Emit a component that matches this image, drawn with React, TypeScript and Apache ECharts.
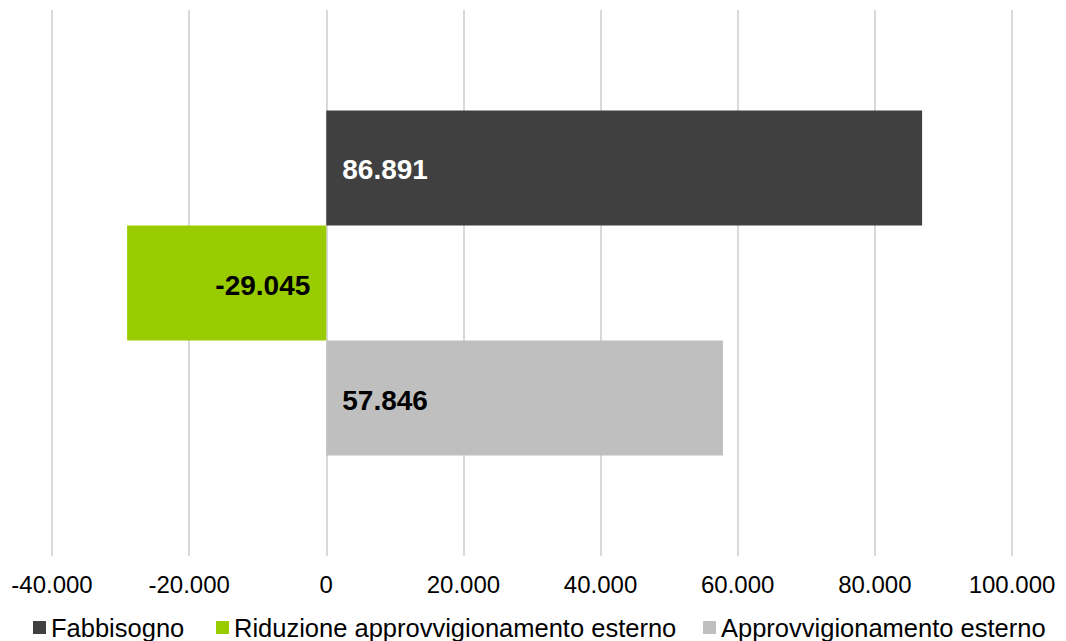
import React, { useEffect, useRef } from "react";
import * as echarts from "echarts";

const categories = [""];
const seriesNames = ["Fabbisogno", "Riduzione approvvigionamento esterno", "Approvvigionamento esterno"];
const seriesValues = [86891, -29045, 57846];
const seriesColors = ["#404040", "#99CC00", "#BFBFBF"];
const labelColors = ["#FFFFFF", "#000000", "#000000"];
const xMin = -40000;
const xMax = 100000;
const xInterval = 20000;

const fmt = (v: number) => {
  const s = Math.abs(Math.round(v)).toString().replace(/\B(?=(\d{3})+(?!\d))/g, ".");
  return (v < 0 ? "-" : "") + s;
};

const FONT = "'Liberation Sans', Arial, sans-serif";

export default function App() {
  const ref = useRef<HTMLDivElement>(null);
  useEffect(() => {
    if (!ref.current) return;
    const chart = echarts.init(ref.current, undefined, { renderer: "svg" });
    const legendLefts = [33, 216, 703];
    chart.setOption({
      animation: false,
      backgroundColor: "#FFFFFF",
      textStyle: { fontFamily: FONT },
      grid: { left: 52, right: 54, top: 10, bottom: 85 },
      legend: seriesNames.map((n, i) => ({
        data: [n],
        left: legendLefts[i],
        top: 614,
        padding: 0,
        itemWidth: 13,
        itemHeight: 13,
        itemGap: 5,
        icon: "rect",
        textStyle: { fontSize: 25.5, lineHeight: 27, color: "#000000", fontFamily: FONT },
      })),
      xAxis: {
        type: "value",
        min: xMin,
        max: xMax,
        interval: xInterval,
        axisLine: { show: false },
        axisTick: { show: false },
        splitLine: { show: true, lineStyle: { color: "#D9D9D9", width: 2 } },
        axisLabel: { formatter: (v: number) => fmt(v), fontSize: 24, color: "#000000", margin: 16, fontFamily: FONT },
      },
      yAxis: {
        type: "category",
        data: categories,
        inverse: true,
        axisLine: { show: false },
        axisTick: { show: false },
        axisLabel: { show: false },
      },
      series: seriesNames.map((n, i) => ({
        name: n,
        type: "bar",
        data: [seriesValues[i]],
        barGap: "0%",
        barCategoryGap: "36.8%",
        itemStyle: { color: seriesColors[i] },
        label: {
          show: true,
          position: seriesValues[i] < 0 ? "insideRight" : "insideLeft",
          distance: 16,
          offset: [0, 2],
          formatter: (p: any) => fmt(p.value),
          color: labelColors[i],
          fontSize: 28,
          fontWeight: "bold",
          fontFamily: FONT,
        },
      })),
    });
    return () => chart.dispose();
  }, []);
  return (
    <div
      ref={ref}
      style={{ position: "fixed", left: 0, top: 0, width: 1066, height: 641 }}
    />
  );
}
